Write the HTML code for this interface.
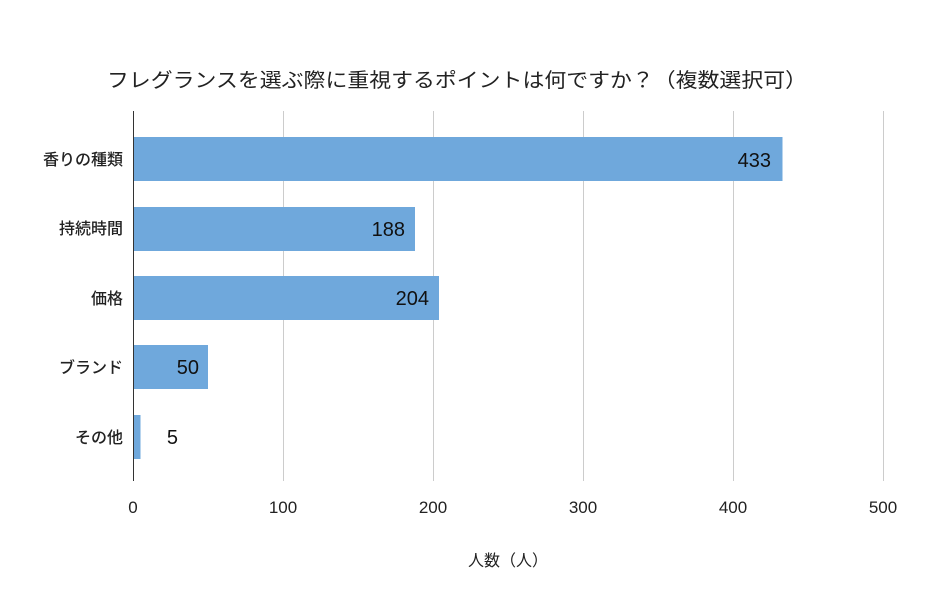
<!DOCTYPE html>
<html><head><meta charset="utf-8"><style>body{margin:0;background:#fff}</style></head><body>
<svg width="950" height="600" xmlns="http://www.w3.org/2000/svg" font-family="'Liberation Sans','Noto Sans CJK JP',sans-serif">
<rect width="950" height="600" fill="#fff"/>
<text x="107" y="87" font-size="20" fill="#222" textLength="700" lengthAdjust="spacingAndGlyphs">フレグランスを選ぶ際に重視するポイントは何ですか？（複数選択可）</text>
<g stroke="#ccc" stroke-width="1">
<line x1="283.5" y1="111" x2="283.5" y2="481"/>
<line x1="433.5" y1="111" x2="433.5" y2="481"/>
<line x1="583.5" y1="111" x2="583.5" y2="481"/>
<line x1="733.5" y1="111" x2="733.5" y2="481"/>
<line x1="883.5" y1="111" x2="883.5" y2="481"/>
</g>
<g fill="#6fa8dc">
<rect x="133" y="137" width="649.5" height="44"/>
<rect x="133" y="207" width="282" height="44"/>
<rect x="133" y="276" width="306" height="44"/>
<rect x="133" y="345" width="75" height="44"/>
<rect x="133" y="415" width="7.5" height="44"/>
</g>
<line x1="133.5" y1="111" x2="133.5" y2="481" stroke="#333" stroke-width="1"/>
<g font-size="20" fill="#111" text-anchor="end">
<text x="771" y="167">433</text>
<text x="405" y="236">188</text>
<text x="429" y="305">204</text>
<text x="199" y="374">50</text>
<text x="178" y="444">5</text>
</g>
<g font-size="16" fill="#222" text-anchor="end" font-weight="500">
<text x="123" y="165">香りの種類</text>
<text x="123" y="234">持続時間</text>
<text x="123" y="304">価格</text>
<text x="123" y="373">ブランド</text>
<text x="123" y="443">その他</text>
</g>
<g font-size="17" fill="#222" text-anchor="middle">
<text x="133" y="513">0</text>
<text x="283" y="513">100</text>
<text x="433" y="513">200</text>
<text x="583" y="513">300</text>
<text x="733" y="513">400</text>
<text x="883" y="513">500</text>
<text x="508" y="566" font-size="16" textLength="80" lengthAdjust="spacingAndGlyphs">人数（人）</text>
</g>
</svg>
</body></html>
